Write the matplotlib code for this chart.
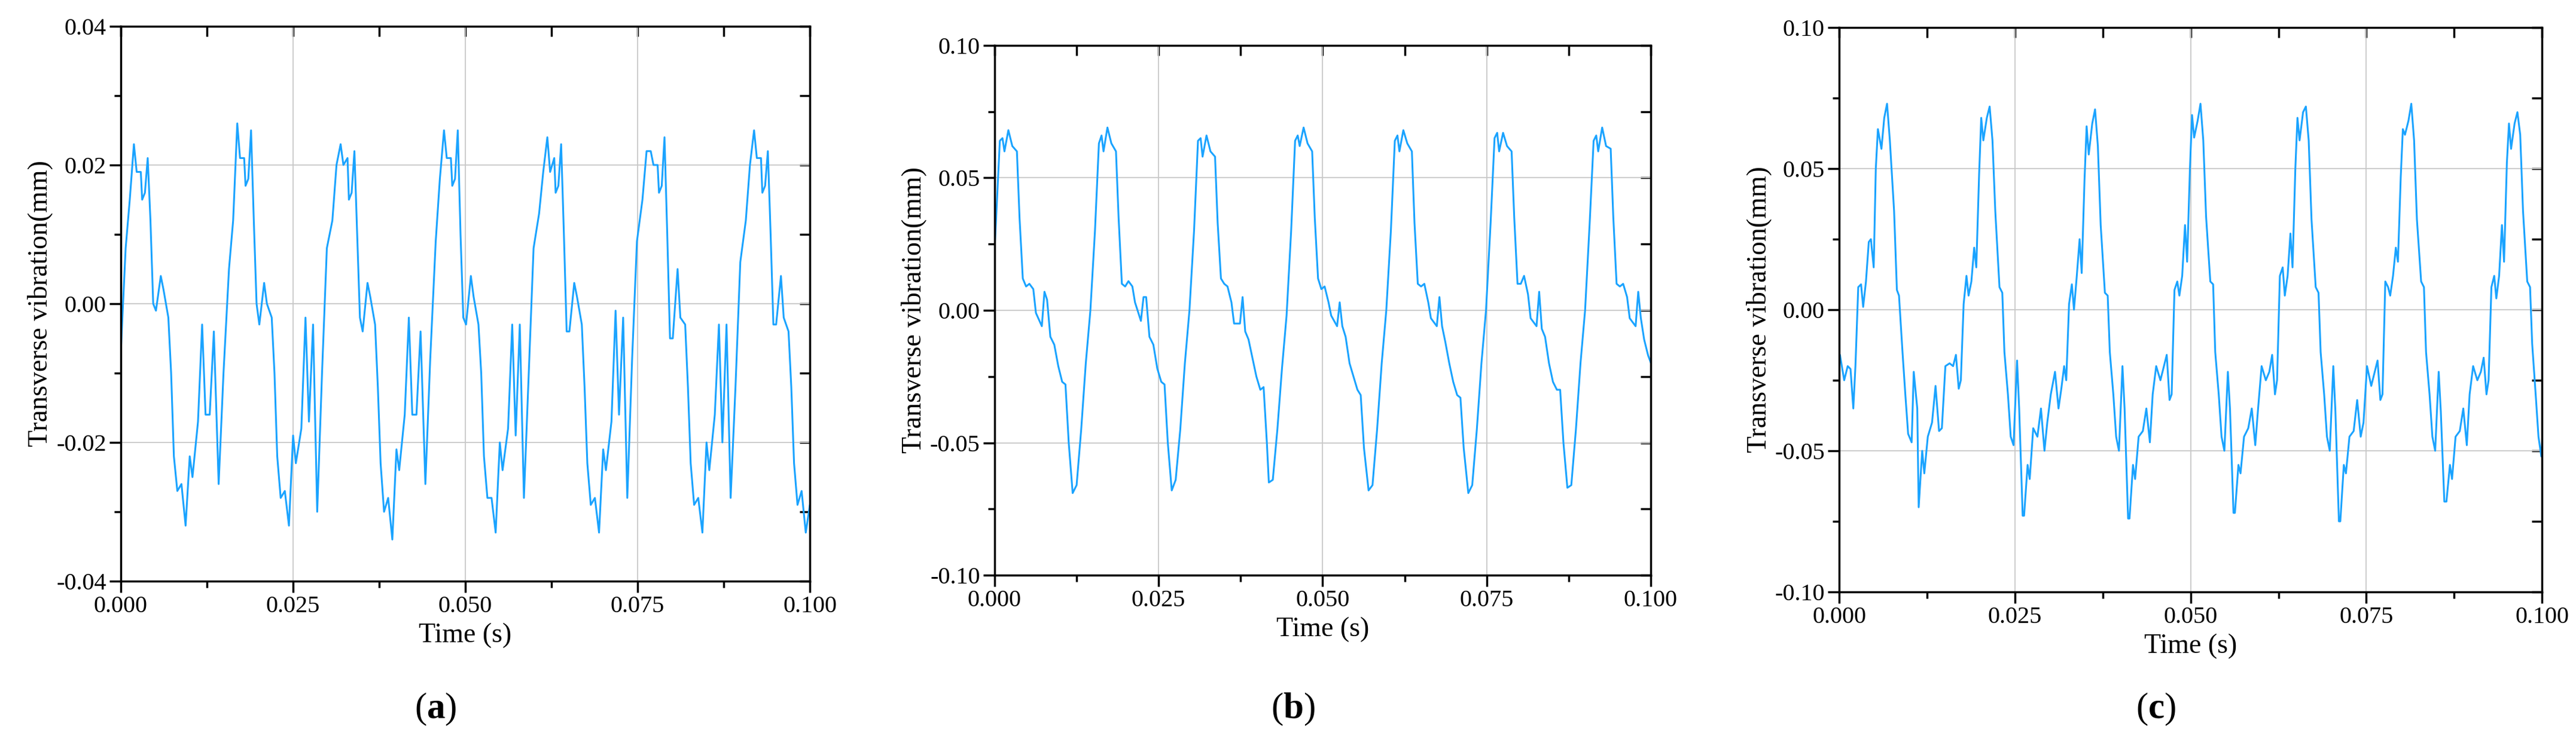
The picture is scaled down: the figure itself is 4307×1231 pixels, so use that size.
"""Transverse vibration time histories, three panels (a)-(c)."""
import numpy as np
import matplotlib
matplotlib.use("Agg")
import matplotlib.pyplot as plt
from matplotlib.ticker import MultipleLocator

plt.rcParams["font.family"] = ["Liberation Serif", "DejaVu Serif"]
plt.rcParams["mathtext.fontset"] = "custom"
plt.rcParams["mathtext.rm"] = "Liberation Serif"
plt.rcParams["mathtext.bf"] = "Liberation Serif:bold"

LINE = "#1aa3ff"

# ---- panel (a): one cycle sampled at these offsets, values read per cycle
a_starts = [-0.0032, 0.0118, 0.0268, 0.0418, 0.0568, 0.0718, 0.0868]
a_offsets = [0, .0005, .0011, .0017, .0024, .0031, .0039, .0045, .0051, .0055,
             .0061, .0063, .0067, .0071, .0075, .0079, .0083, .0090, .0094, .0101,
             .0105, .0109, .0114, .0120, .0126, .0132, .0136, .0144]
a_values = [
    [-.003, -.016, -.016, -.004, -.026, -.009, .008, .015, .023, .019, .019, .015, .016, .021, .012, 0.0, -.001, .004, .002, -.002, -.01, -.022, -.027, -.026, -.032, -.022, -.025, -.017],
    [-.003, -.016, -.016, -.004, -.026, -.010, .005, .012, .026, .021, .021, .017, .018, .025, .012, 0.0, -.003, .003, 0.0, -.002, -.010, -.022, -.028, -.027, -.032, -.019, -.023, -.018],
    [-.002, -.017, -.003, -.030, -.010, .008, .012, .020, .023, .020, .021, .015, .016, .022, .010, -.002, -.004, .003, .001, -.003, -.012, -.023, -.030, -.028, -.034, -.021, -.024, -.016],
    [-.002, -.016, -.016, -.004, -.026, -.008, .009, .018, .025, .021, .021, .017, .018, .025, .010, -.002, -.003, .004, .001, -.003, -.010, -.022, -.028, -.028, -.033, -.020, -.024, -.018],
    [-.003, -.019, -.003, -.028, -.010, .008, .013, .019, .024, .019, .021, .016, .017, .023, .010, -.004, -.004, .003, .001, -.003, -.012, -.023, -.029, -.028, -.033, -.021, -.024, -.017],
    [-.001, -.016, -.002, -.028, -.008, .009, .015, .022, .022, .020, .020, .016, .017, .024, .010, -.005, -.005, .005, -.002, -.003, -.012, -.023, -.029, -.028, -.033, -.020, -.024, -.016],
    [-.003, -.020, -.003, -.028, -.012, .006, .012, .020, .025, .021, .021, .016, .017, .022, .010, -.003, -.003, .004, -.002, -.004, -.012, -.023, -.029, -.027, -.033, -.029, -.030, -.026],
]

# ---- panel (b)
b_starts = [-0.0032, 0.0119, 0.0270, 0.0418, 0.0570, 0.0722, 0.0873]
b_offsets = [0, .0006, .0013, .0020, .0027, .0034, .0040, .0044, .0047, .0053,
             .0059, .0066, .0070, .0075, .0080, .0085, .0091, .0095, .0104, .0108,
             .0112, .0117, .0123, .0129, .0135, .0140, .0145]
b_values = [
    [-.069, -.066, -.045, -.020, 0.0, .033, .064, .065, .060, .068, .062, .060, .035, .012, .009, .010, .008, -.001, -.006, .007, .004, -.010, -.013, -.021, -.027, -.028, -.050],
    [-.069, -.066, -.045, -.020, 0.0, .030, .063, .066, .060, .069, .063, .060, .035, .010, .009, .011, .009, .003, -.004, .005, .005, -.010, -.013, -.022, -.027, -.028, -.050],
    [-.068, -.064, -.045, -.020, 0.0, .030, .064, .065, .058, .066, .060, .058, .033, .012, .010, .009, .003, -.005, -.005, .005, -.008, -.011, -.018, -.025, -.030, -.029, -.050],
    [-.065, -.064, -.045, -.022, -.002, .030, .064, .066, .062, .069, .063, .060, .035, .012, .008, .009, .003, -.002, -.006, .003, -.006, -.010, -.020, -.025, -.030, -.032, -.052],
    [-.068, -.066, -.045, -.020, 0.0, .030, .064, .066, .060, .068, .063, .060, .033, .010, .009, .010, .003, -.003, -.006, .005, -.006, -.012, -.020, -.027, -.032, -.033, -.052],
    [-.069, -.066, -.045, -.020, 0.0, .033, .065, .067, .060, .067, .062, .060, .035, .010, .010, .013, .006, -.003, -.006, .007, -.007, -.010, -.020, -.027, -.030, -.030, -.050],
    [-.067, -.066, -.045, -.020, 0.0, .033, .064, .066, .060, .069, .062, .061, .035, .010, .009, .010, .005, -.003, -.006, .007, -.003, -.011, -.017, -.021, -.025, -.030, -.050],
]

# ---- panel (c)
c_starts = [-0.0037, 0.0113, 0.0263, 0.0413, 0.0563, 0.0713, 0.0864]
c_offsets = [0, .0005, .0008, .0013, .0019, .0024, .0029, .0033, .0038, .0044,
             .0049, .0053, .0057, .0060, .0064, .0068, .0071, .0075, .0079, .0082,
             .0086, .0089, .0092, .0097, .0101, .0105, .0109, .0115, .0119, .0122,
             .0127, .0131, .0135, .0140, .0143, .0148]
c_values = [
    [-.070, -.050, -.058, -.045, -.040, -.030, -.030, -.030, -.016, -.025, -.020, -.021, -.035, -.020, .008, .009, .001, .010, .024, .025, .015, .050, .064, .057, .068, .073, .060, .035, .007, .005, -.015, -.030, -.044, -.047, -.022, -.035],
    [-.070, -.050, -.058, -.045, -.040, -.027, -.043, -.042, -.020, -.019, -.020, -.016, -.028, -.025, .002, .012, .005, .010, .022, .015, .048, .068, .060, .068, .072, .060, .035, .008, .006, -.015, -.030, -.045, -.048, -.018, -.035, -.073],
    [-.073, -.055, -.060, -.042, -.045, -.035, -.050, -.040, -.030, -.022, -.035, -.028, -.020, -.025, .002, .009, .000, .012, .025, .013, .046, .065, .055, .066, .071, .058, .030, .006, .005, -.015, -.030, -.045, -.050, -.020, -.035, -.074],
    [-.074, -.055, -.060, -.045, -.043, -.035, -.047, -.030, -.020, -.025, -.020, -.016, -.032, -.030, .007, .010, .005, .012, .030, .017, .050, .069, .061, .067, .073, .060, .033, .010, .009, -.015, -.030, -.045, -.050, -.022, -.035, -.072],
    [-.072, -.055, -.058, -.045, -.042, -.035, -.048, -.035, -.020, -.025, -.022, -.016, -.030, -.025, .012, .015, .005, .012, .027, .015, .050, .068, .060, .070, .072, .060, .032, .008, .006, -.015, -.030, -.045, -.050, -.020, -.036, -.075],
    [-.075, -.055, -.058, -.045, -.043, -.032, -.045, -.040, -.020, -.027, -.022, -.018, -.032, -.030, .010, .008, .005, .012, .022, .017, .047, .064, .062, .067, .073, .060, .032, .010, .008, -.015, -.030, -.045, -.050, -.022, -.036, -.068],
    [-.068, -.055, -.060, -.045, -.043, -.035, -.048, -.030, -.020, -.025, -.022, -.017, -.030, -.025, .008, .012, .004, .012, .030, .017, .052, .066, .057, .066, .070, .062, .035, .010, .008, -.012, -.030, -.045, -.052, -.030, -.040, -.070],
]

panels = [
    ("a", a_starts, a_offsets, a_values, 0.04, 0.02, [0.0469, 0.2104, 0.2675, 0.7539], 0.169),
    ("b", b_starts, b_offsets, b_values, 0.10, 0.05, [0.3861, 0.2185, 0.2547, 0.7198], 0.502),
    ("c", c_starts, c_offsets, c_values, 0.10, 0.05, [0.7140, 0.1958, 0.2728, 0.7668], 0.837),
]

fig = plt.figure(figsize=(43.07, 12.31), dpi=100)

for tag, starts, offsets, values, ylim, ystep, rect, lab_x in panels:
    t = np.concatenate([s + np.array(offsets) for s in starts])
    y = np.concatenate([np.array(v) for v in values])
    ax = fig.add_axes(rect)
    ax.plot(t, y, color=LINE, lw=2.2)
    ax.set_xlim(0, 0.1)
    ax.set_ylim(-ylim, ylim)
    ax.xaxis.set_major_locator(MultipleLocator(0.025))
    ax.xaxis.set_minor_locator(MultipleLocator(0.0125))
    ax.yaxis.set_major_locator(MultipleLocator(ystep))
    ax.yaxis.set_minor_locator(MultipleLocator(ystep / 2))
    ax.xaxis.set_major_formatter(plt.FormatStrFormatter("%.3f"))
    ax.yaxis.set_major_formatter(plt.FormatStrFormatter("%.2f"))
    ax.grid(True, which="major", color="#c8c8c8", lw=1.3)
    for sp in ax.spines.values():
        sp.set_linewidth(2.5)
    ax.tick_params(which="both", direction="out", width=2.5, labelsize=29,
                   top=False, right=False)
    ax.tick_params(which="major", length=14)
    ax.tick_params(which="minor", length=8)
    # inward ticks on the top and right edges
    sec_x = ax.secondary_xaxis("top")
    sec_x.set_xticks(np.arange(0, 0.1001, 0.0125))
    sec_x.tick_params(direction="in", length=12, width=2.5, labeltop=False)
    sec_y = ax.secondary_yaxis("right")
    sec_y.set_yticks(np.arange(-ylim, ylim + 1e-9, ystep / 2))
    sec_y.tick_params(direction="in", length=12, width=2.5, labelright=False)
    ax.set_xlabel("Time (s)", fontsize=33, labelpad=6)
    ax.set_ylabel("Transverse vibration(mm)", fontsize=33, labelpad=4)
    fig.text(lab_x, 0.036, "($\\mathbf{%s}$)" % tag, fontsize=44, ha="center", va="center")

fig.savefig("out.png", dpi=100)
